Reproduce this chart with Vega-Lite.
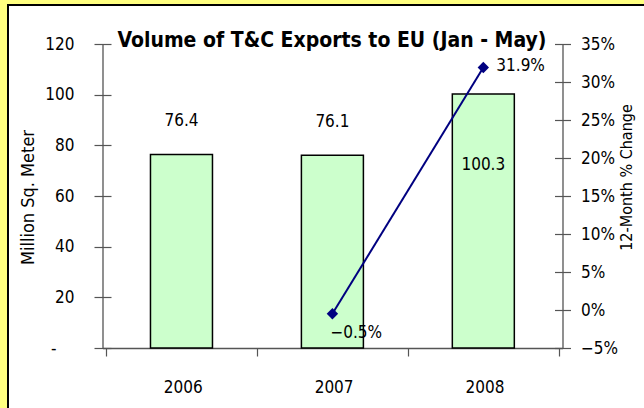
{
  "$schema": "https://vega.github.io/schema/vega-lite/v6.json",
  "width": 636,
  "height": 403,
  "autosize": {"type": "none"},
  "padding": {"left": 8, "top": 5, "right": 0, "bottom": 0},
  "background": "#FFFF80",
  "config": {
    "font": "DejaVu Sans Condensed, Liberation Sans, sans-serif",
    "view": {"fill": "white", "stroke": "black", "strokeWidth": 2, "strokeDash": [636, 1039, 403, 1]},
    "axis": {"grid": false, "domain": false, "domainColor": "#555555", "domainWidth": 1.3, "tickColor": "#555555", "tickWidth": 1.2, "labelColor": "black", "titleColor": "black", "labelFontSize": 17, "titleFontWeight": "normal", "labelFlush": false, "labelOverlap": false}
  },
  "title": {"text": "Volume of T&C Exports to EU (Jan - May)", "fontSize": 21, "fontWeight": "bold", "color": "black", "anchor": "middle", "frame": "group", "offset": 0, "baseline": "middle", "dy": 57, "dx": 6},
  "data": {"values": [
    {"year": 2006, "volume": 76.4, "change": null},
    {"year": 2007, "volume": 76.1, "change": -0.005},
    {"year": 2008, "volume": 100.3, "change": 0.319}
  ]},
  "encoding": {
    "x": {"field": "year", "type": "quantitative", "scale": {"domain": [2004.8837, 2009.0315], "nice": false, "zero": false},
      "axis": {"orient": "bottom", "offset": -60, "values": [2005.5, 2006.5, 2007.5, 2008.5], "domain": true, "domainDash": [0, 94.5, 460, 200], "tickSize": 8, "labelOffset": 76.67, "labelPadding": 31, "labelBaseline": "middle", "labelExpr": "datum.value < 2008 ? format(datum.value + 0.5, 'd') : ''", "title": null}}
  },
  "layer": [
    {
      "mark": {"type": "bar", "size": 62, "fill": "#CCFFCC", "stroke": "black", "strokeWidth": 1.5},
      "encoding": {
        "y": {"field": "volume", "type": "quantitative", "scale": {"domain": [-23.684, 135.395], "nice": false, "zero": false},
          "axis": {"orient": "left", "offset": -94.5, "values": [0, 20, 40, 60, 80, 100, 120], "domain": true, "domainDash": [0, 60, 304, 200], "tickSize": 8.5, "labelPadding": {"condition": {"test": "datum.value == 0", "value": 38}, "value": 20}, "labelExpr": "datum.value == 0 ? '-' : datum.label", "title": "Million Sq. Meter", "titleFontSize": 18, "titleX": -74.5, "titleY": 192, "titleAngle": 270, "titleAlign": "center", "titleBaseline": "middle"}}
      }
    },
    {
      "transform": [{"filter": "datum.year < 2008"}],
      "mark": {"type": "text", "fontSize": 17, "color": "black", "baseline": "middle", "dy": -33},
      "encoding": {
        "y": {"field": "volume", "type": "quantitative", "scale": {"domain": [-23.684, 135.395], "nice": false, "zero": false},
          "axis": {"orient": "left", "offset": -94.5, "values": [0, 20, 40, 60, 80, 100, 120], "tickSize": -8.5, "labels": false, "domain": false, "title": null}},
        "text": {"field": "volume", "type": "quantitative", "format": ".1f"}
      }
    },
    {
      "transform": [{"filter": "datum.year == 2008"}],
      "mark": {"type": "text", "fontSize": 17, "color": "black", "baseline": "middle", "dy": 71},
      "encoding": {
        "y": {"field": "volume", "type": "quantitative", "scale": {"domain": [-23.684, 135.395], "nice": false, "zero": false}, "axis": null},
        "text": {"field": "volume", "type": "quantitative", "format": ".1f"}
      }
    },
    {
      "transform": [{"filter": "datum.change != null"}],
      "mark": {"type": "line", "color": "#000080", "strokeWidth": 2},
      "encoding": {
        "y": {"field": "change", "type": "quantitative", "scale": {"domain": [-0.128947, 0.401316], "nice": false, "zero": false},
          "axis": {"orient": "right", "offset": -81.5, "values": [-0.05, 0, 0.05, 0.1, 0.15, 0.2, 0.25, 0.3, 0.35], "format": ".0%", "domain": true, "domainDash": [0, 60, 304, 200], "tickSize": 8, "labelPadding": 10, "title": "12-Month % Change", "titleFontSize": 16, "titleX": 63.5, "titleY": 172, "titleAngle": 270, "titleAlign": "center", "titleBaseline": "middle"}}
      }
    },
    {
      "transform": [{"filter": "datum.change != null"}],
      "mark": {"type": "point", "shape": "diamond", "filled": true, "size": 130, "color": "#000080", "opacity": 1},
      "encoding": {
        "y": {"field": "change", "type": "quantitative", "scale": {"domain": [-0.128947, 0.401316], "nice": false, "zero": false},
          "axis": {"orient": "right", "offset": -81.5, "values": [-0.05, 0, 0.05, 0.1, 0.15, 0.2, 0.25, 0.3, 0.35], "tickSize": -8, "labels": false, "domain": false, "title": null}}
      }
    },
    {
      "transform": [{"filter": "datum.year == 2008"}],
      "mark": {"type": "text", "fontSize": 17, "color": "black", "align": "left", "baseline": "middle", "dx": 13, "dy": -2},
      "encoding": {
        "y": {"field": "change", "type": "quantitative", "scale": {"domain": [-0.128947, 0.401316], "nice": false, "zero": false}, "axis": null},
        "text": {"field": "change", "type": "quantitative", "format": ".1%"}
      }
    },
    {
      "transform": [{"filter": "datum.year == 2007"}],
      "mark": {"type": "text", "fontSize": 17, "color": "black", "align": "left", "baseline": "middle", "dx": -2, "dy": 19},
      "encoding": {
        "y": {"field": "change", "type": "quantitative", "scale": {"domain": [-0.128947, 0.401316], "nice": false, "zero": false}, "axis": null},
        "text": {"field": "change", "type": "quantitative", "format": ".1%"}
      }
    }
  ],
  "resolve": {"scale": {"y": "independent"}}
}
